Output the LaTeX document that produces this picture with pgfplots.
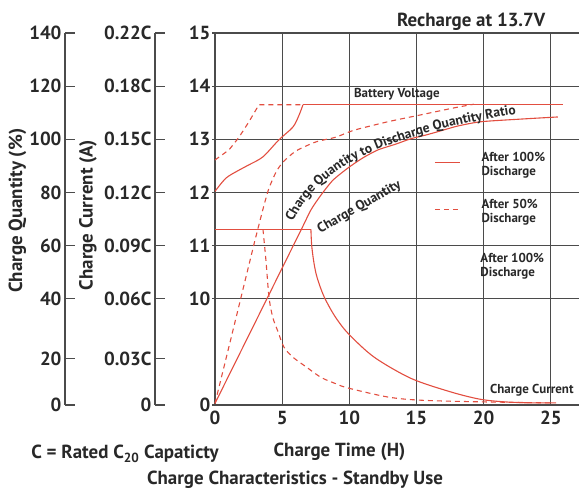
\documentclass[border=0pt]{standalone}
\usepackage{fontspec}
\setmainfont{PT Sans}
\usepackage{pgfplots}
\pgfplotsset{compat=1.18}
\usetikzlibrary{decorations.text}
\definecolor{crv}{RGB}{226,78,64}
\definecolor{grd}{RGB}{75,75,75}
\definecolor{txt}{RGB}{40,40,40}
\newcommand{\bigf}{\bfseries\fontsize{19}{21}\selectfont}
\newcommand{\smlf}{\bfseries\fontsize{13}{13.5}\selectfont}
\newcommand{\curf}{\bfseries\fontsize{13.6}{15}\selectfont}
\pgfplotsset{
  sideaxis/.style={
    anchor=south west, scale only axis, width=10bp, height=372bp,
    xmin=0, xmax=1, ymin=0, ymax=7,
    axis x line=none, axis y line=left,
    axis line style={-, grd, line width=1.2bp},
    ytick={0,0.87,2,3,4,5,6,7},
    tick align=inside, major tick length=10bp,
    ytick style={grd, line width=1.2bp},
    yticklabel style={font=\bigf, text=txt},
    /pgf/number format/assume math mode=true,
    ylabel style={anchor=center, font=\bigf, text=txt},
  }
}
\begin{document}
\begin{tikzpicture}
\useasboundingbox (0,0) rectangle (579bp,491bp);
% Charge quantity axis
\begin{axis}[sideaxis, at={(65bp,86bp)},
  yticklabels={0,20,40,60,80,100,120,140},
  ylabel={Charge Quantity (\%)},
  ylabel style={at={(axis description cs:-4.75,0.522)}}]
\addplot[draw=none] coordinates {(0,0)};
\end{axis}
% Charge current axis
\begin{axis}[sideaxis, at={(155bp,86bp)},
  yticklabels={0,0.03C,0.06C,0.09C,0.12C,0.15C,0.18C,0.22C},
  ylabel={Charge Current (A)},
  ylabel style={at={(axis description cs:-6.7,0.51)}}]
\addplot[draw=none] coordinates {(0,0)};
\end{axis}
% Main axis
\begin{axis}[at={(215bp,86bp)}, anchor=south west, scale only axis,
  width=366bp, height=372bp,
  xmin=0, xmax=27.25, ymin=0, ymax=7,
  xtick={0,5,10,15,20,25},
  ytick={0,2,3,4,5,6,7}, yticklabels={0,10,11,12,13,14,15},
  grid=major, grid style={grd, line width=1.2bp},
  axis line style={grd, line width=1.2bp},
  tick align=outside, major tick length=3bp,
  xtick style={draw=none}, ytick style={grd, line width=1.2bp},
  ticklabel style={font=\bigf, text=txt},
  yticklabel style={inner sep=1.5bp},
  xticklabel style={inner sep=3bp},
  /pgf/number format/assume math mode=true,
  xlabel={Charge Time (H)},
  xlabel style={at={(axis description cs:0.34,-0.126)}, anchor=center, font=\bigf, text=txt},
  title={Recharge at 13.7V},
  title style={at={(axis description cs:0.70,1.014)}, anchor=center, font=\bigf, text=txt},
  clip=false,
  legend style={at={(axis cs:16.1,4.83)}, anchor=north west, draw=none, fill=none,
    font=\smlf, cells={anchor=west, align=left}, row sep=19bp,
    /tikz/every odd column/.append style={column sep=19bp}},
  legend image code/.code={\draw[crv, line width=1.1bp, #1] (0bp,2bp) -- (25bp,2bp);},
]
\addlegendimage{crv, line width=1.1bp}
\addlegendentry{\color{txt}After 100\%\\\color{txt}Discharge}
\addlegendimage{crv, line width=1.1bp, dash pattern=on 5bp off 4bp}
\addlegendentry{\color{txt}After 50\%\\\color{txt}Discharge}
% Battery voltage, after 100% discharge
\addplot[crv, line width=1.1bp, smooth, tension=0.5, forget plot] coordinates {
 (0,4.02) (0.82,4.27) (1.79,4.42) (2.53,4.52) (3.57,4.67) (4.76,4.99) (5.80,5.23) (6.25,5.45) (6.55,5.65)};
\addplot[crv, line width=1.1bp, forget plot] coordinates {(6.55,5.65) (25.9,5.65)};
% Battery voltage, after 50% discharge
\addplot[crv, line width=1.1bp, dash pattern=on 5bp off 4bp, forget plot] coordinates {
 (0,4.61) (1.04,4.80) (1.79,5.04) (2.53,5.33) (3.27,5.65) (6.55,5.65)};
% Charge quantity, after 100% discharge
\addplot[crv, line width=1.1bp, smooth, tension=0.4, forget plot] coordinates {
 (0,0.03) (3.2,1.66) (6.40,3.29) (7.14,3.67) (7.89,3.95) (8.78,4.23) (9.90,4.46) (11.01,4.65) (12.13,4.80) (13.47,4.91) (14.58,5.01) (15.70,5.08) (16.82,5.16) (18.08,5.25) (19.79,5.33) (22.77,5.38) (25.52,5.42)};
% Charge quantity, after 50% discharge
\addplot[crv, line width=1.1bp, smooth, tension=0.4, dash pattern=on 5bp off 4bp, forget plot] coordinates {
 (0,0.03) (1.4,1.47) (2.83,2.95) (3.27,3.39) (3.65,3.76) (4.02,4.08) (4.54,4.38) (5.06,4.57) (6.03,4.78) (7.51,4.95) (9.00,5.04) (10.34,5.17) (12.87,5.33) (15.33,5.46) (17.78,5.59) (19.27,5.66)};
% Charge current, after 100% discharge
\addplot[crv, line width=1.1bp, forget plot] coordinates {(0,3.31) (7.14,3.31)};
\addplot[crv, line width=1.1bp, smooth, tension=0.5, forget plot] coordinates {
 (7.14,3.31) (7.2,3.0) (7.37,2.67) (7.6,2.4) (8.1,2.05) (8.9,1.68) (9.9,1.35) (11.85,0.90) (14.6,0.50) (17.5,0.25) (19.7,0.11) (21.5,0.06) (23.5,0.04) (25.4,0.04)};
% Charge current, after 50% discharge
\addplot[crv, line width=1.1bp, dash pattern=on 5bp off 4bp, forget plot] coordinates {(0,3.31) (3.57,3.31)};
\addplot[crv, line width=1.1bp, smooth, tension=0.5, dash pattern=on 5bp off 4bp, forget plot] coordinates {
 (3.57,3.31) (3.8,2.7) (4.02,2.03) (4.3,1.65) (4.69,1.38) (5.13,1.09) (5.80,0.90) (6.77,0.72) (7.89,0.52) (9.0,0.40) (9.90,0.32) (12.87,0.15) (15.33,0.09) (19.6,0.06) (25.0,0.04)};
% curve labels
\node[font=\smlf, text=txt] at (axis cs:13.54,5.85) {Battery Voltage};
\node[font=\curf, text=txt, rotate=30] at (axis cs:10.75,3.72) {Charge Quantity};
\node[font=\smlf, text=txt] at (axis cs:23.59,0.28) {Charge Current};
\node[font=\smlf, text=txt, anchor=north west, align=left] at (axis cs:19.5,2.92) {After 100\%\\Discharge};
\path[decorate, decoration={text along path, text align=center,
  text={|\curf\color{txt}|Charge Quantity to Discharge Quantity Ratio}}]
  (axis cs:5.6,3.33) .. controls (axis cs:7.45,4.42) and (axis cs:11.61,5.03) .. (axis cs:22.9,5.50);
\end{axis}
\node[font=\bigf, text=txt] at (125bp,37bp) {C = Rated C\textsubscript{20} Capaticty};
\node[font=\bigf, text=txt] at (295bp,11bp) {Charge Characteristics - Standby Use};
\end{tikzpicture}
\end{document}
